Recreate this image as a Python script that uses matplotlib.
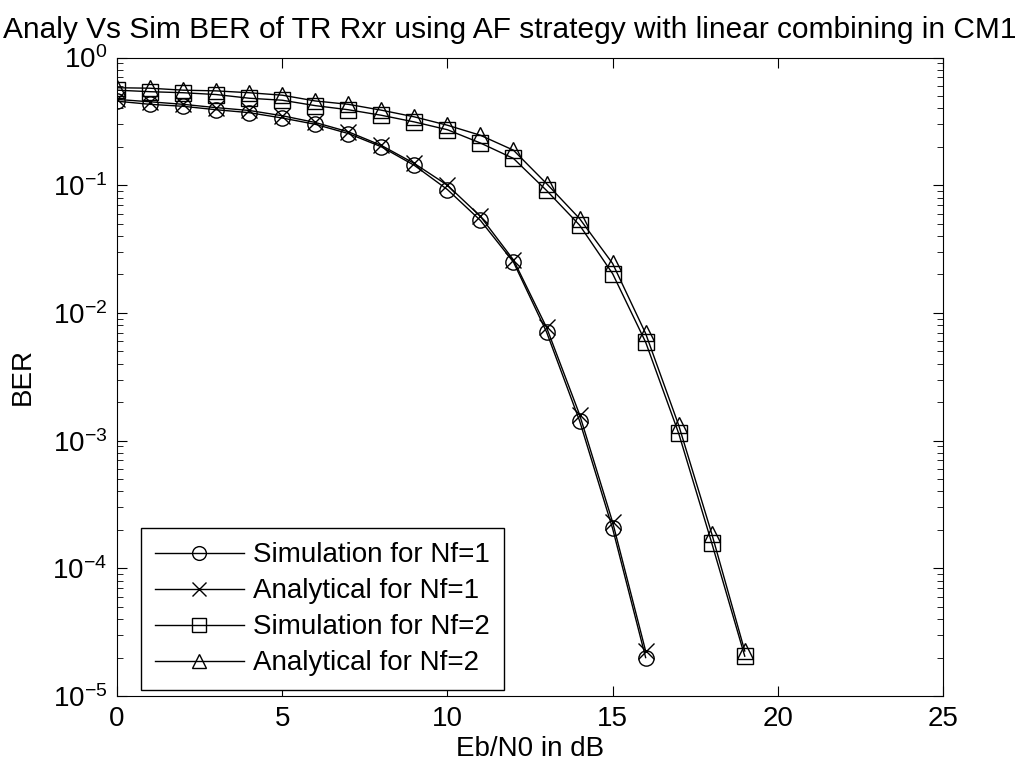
import matplotlib.pyplot as plt
import numpy as np

plt.rcParams['font.family'] = ['Liberation Sans', 'DejaVu Sans']
plt.rcParams['mathtext.fontset'] = 'custom'
plt.rcParams['mathtext.rm'] = 'Liberation Sans'

# Eb/N0 axis and BER curves
ebn0_nf1 = np.arange(0, 17)
ebn0_nf2 = np.arange(0, 20)

sim_nf1 = [0.455, 0.43, 0.415, 0.39, 0.37, 0.336, 0.30, 0.254, 0.20, 0.143,
           0.0925, 0.053, 0.025, 0.0071, 0.00143, 2.05e-4, 2.0e-5]
ana_nf1 = [0.47, 0.45, 0.43, 0.405, 0.385, 0.35, 0.31, 0.262, 0.205, 0.148,
           0.1, 0.057, 0.026, 0.0077, 0.0016, 2.3e-4, 2.25e-5]
sim_nf2 = [0.555, 0.54, 0.53, 0.513, 0.48, 0.463, 0.42, 0.39, 0.353, 0.313,
           0.272, 0.214, 0.162, 0.091, 0.0487, 0.0203, 0.0059, 0.00114,
           1.58e-4, 2.05e-5]
ana_nf2 = [0.58, 0.575, 0.555, 0.548, 0.53, 0.507, 0.457, 0.43, 0.387, 0.343,
           0.295, 0.246, 0.188, 0.103, 0.0548, 0.0244, 0.0069, 0.00132,
           1.87e-4, 2.25e-5]

fig = plt.figure(figsize=(10.21, 7.7), dpi=100)
ax = fig.add_axes([0.1146, 0.0961, 0.809, 0.8292])

style = dict(color='black', linewidth=1.0, markersize=11, markerfacecolor='none',
             markeredgewidth=1.0)
ax.semilogy(ebn0_nf1, sim_nf1, marker='o', label='Simulation for Nf=1', **style)
ax.semilogy(ebn0_nf1, ana_nf1, marker='x', label='Analytical for Nf=1', **style)
ax.semilogy(ebn0_nf2, sim_nf2, marker='s', label='Simulation for Nf=2', **style)
ax.semilogy(ebn0_nf2, ana_nf2, marker='^', label='Analytical for Nf=2', **style)

ax.set_xlim(0, 25)
ax.set_ylim(1e-5, 1)
ax.set_xticks([0, 5, 10, 15, 20, 25])
ax.tick_params(which='both', direction='in', top=True, right=True, labelsize=20)
ax.tick_params(which='major', length=7, pad=7)
ax.tick_params(which='minor', length=4)

ax.set_xlabel('Eb/N0 in dB', fontsize=20, labelpad=3)
ax.set_ylabel('BER', fontsize=20, labelpad=12)
ax.set_title('Analy Vs Sim BER of TR Rxr using AF strategy with linear combining in CM1',
             fontsize=21.5, pad=14, x=0.476)

leg = ax.legend(loc='lower left', bbox_to_anchor=(0.029, 0.009), fontsize=20,
                markerscale=0.9, handlelength=3.2, handletextpad=0.35,
                borderpad=0.5, borderaxespad=0, fancybox=False,
                edgecolor='black', framealpha=1, labelspacing=0.36)
leg.get_frame().set_linewidth(1.0)

plt.savefig('out.png', dpi=100)
